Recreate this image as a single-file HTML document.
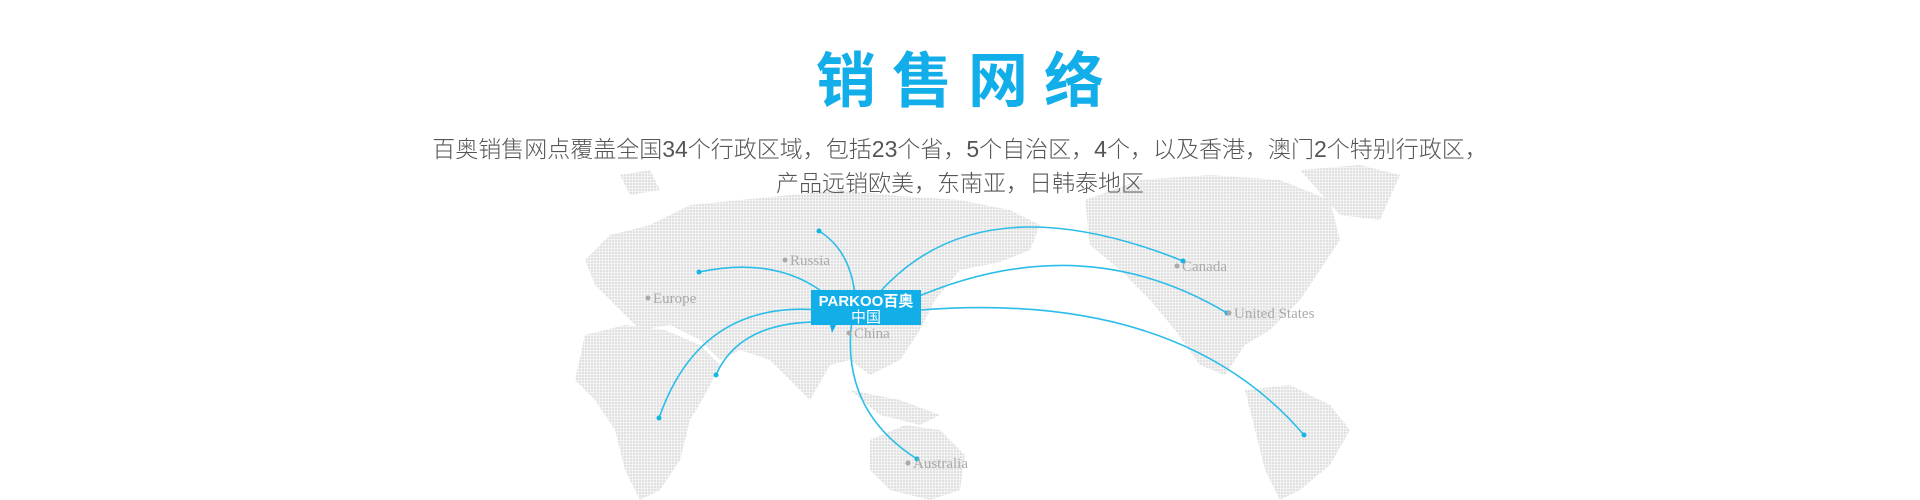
<!DOCTYPE html>
<html><head><meta charset="utf-8"><style>
html,body{margin:0;padding:0;background:#fff;width:1920px;height:500px;overflow:hidden}
.t{position:absolute;left:0;width:1920px;text-align:center;font-family:"Liberation Sans","Noto Sans CJK SC",sans-serif}
</style></head><body>
<svg width="1920" height="500" viewBox="0 0 1920 500" style="position:absolute;left:0;top:0">
<defs>
<pattern id="dp" width="3" height="3" patternUnits="userSpaceOnUse"><rect width="3" height="3" fill="#f3f3f3"/><rect width="2" height="2" fill="#e0e0e0"/></pattern>
</defs>
<g fill="url(#dp)">
<path d="M585,260 L610,235 L650,225 L690,205 L740,200 L790,195 L840,190 L900,196 L960,200 L1010,210 L1040,225 L1030,250 L1000,262 L960,270 L935,300 L920,330 L900,360 L870,375 L850,360 L830,365 L810,400 L790,380 L770,360 L740,350 L720,360 L700,340 L670,325 L640,330 L610,300 L595,285 Z"/>
<path d="M585,335 L625,325 L665,330 L700,345 L720,365 L705,395 L690,420 L680,460 L660,490 L640,500 L625,470 L615,430 L595,400 L575,380 Z"/>
<path d="M870,440 L905,425 L940,430 L965,455 L960,490 L930,500 L890,490 L870,470 Z"/>
<path d="M850,390 L900,400 L940,415 L920,425 L880,415 Z"/>
<path d="M1085,200 L1140,180 L1210,175 L1280,180 L1330,200 L1340,240 L1320,270 L1300,300 L1270,330 L1245,345 L1225,375 L1200,365 L1175,330 L1150,300 L1120,270 L1090,245 Z"/>
<path d="M1300,170 L1360,165 L1400,175 L1380,220 L1340,215 Z"/>
<path d="M1245,390 L1290,385 L1330,405 L1350,430 L1330,465 L1300,490 L1280,500 L1265,470 L1255,430 Z"/>
<path d="M620,175 L650,170 L660,190 L630,195 Z"/>
</g>
<g fill="none" stroke="#2bbde9" stroke-width="1.6">
<path d="M855,295 Q850,250 819,231"/>
<path d="M830,298 Q780,255 699,272"/>
<path d="M820,310 Q700,300 659,418"/>
<path d="M825,322 Q740,320 716,375"/>
<path d="M852,320 Q840,410 917,459"/>
<path d="M880,292 Q980,180 1183,261"/>
<path d="M910,300 Q1080,225 1227,313"/>
<path d="M920,310 Q1180,290 1304,435"/>
</g>
<g fill="#15b5e4">
<circle cx="819" cy="231" r="2.5"/><circle cx="699" cy="272" r="2.5"/><circle cx="659" cy="418" r="2.5"/><circle cx="716" cy="375" r="2.5"/><circle cx="917" cy="459" r="2.5"/><circle cx="1183" cy="261" r="2.5"/><circle cx="1227" cy="313" r="2.5"/><circle cx="1304" cy="435" r="2.5"/>
</g>
<g font-family="Liberation Serif,serif" font-size="15" fill="#aaa">
<circle cx="785" cy="260" r="2.5"/><text x="790" y="265">Russia</text>
<circle cx="648" cy="298" r="2.5"/><text x="653" y="303">Europe</text>
<circle cx="849" cy="333" r="2.5"/><text x="854" y="338">China</text>
<circle cx="908" cy="463" r="2.5"/><text x="913" y="468">Australia</text>
<circle cx="1177" cy="266" r="2.5"/><text x="1182" y="271">Canada</text>
<circle cx="1229" cy="313" r="2.5"/><text x="1234" y="318">United  States</text>
</g>
<rect x="811" y="290" width="110" height="35" fill="#12aee8"/>
<path d="M830,325 L836,325 L832,333 Z" fill="#12aee8"/>
<text x="866" y="306" text-anchor="middle" font-family="Liberation Sans,Noto Sans CJK SC,sans-serif" font-size="15" font-weight="bold" fill="#fff">PARKOO百奥</text>
<text x="866" y="322" text-anchor="middle" font-family="Liberation Sans,Noto Sans CJK SC,sans-serif" font-size="15" fill="#fff">中国</text>
</svg>
<div class="t" style="top:44px;font-size:60px;font-weight:bold;color:#11aeea;letter-spacing:16px;text-indent:16px;line-height:76px">销售网络</div>
<div class="t" style="top:132px;font-size:23px;color:#555;line-height:34px;font-weight:300">百奥销售网点覆盖全国34个行政区域，包括23个省，5个自治区，4个，以及香港，澳门2个特别行政区，<br>产品远销欧美，东南亚，日韩泰地区</div>
</body></html>
